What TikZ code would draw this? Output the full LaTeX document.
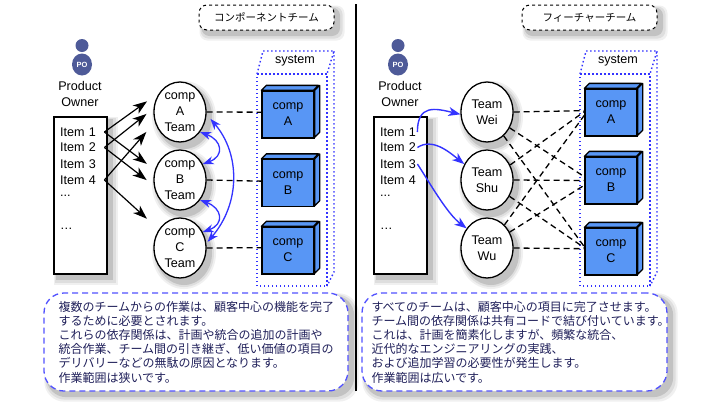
\documentclass[tikz,border=0pt]{standalone}
\usepackage{fontspec}
\setmainfont{Liberation Sans}
\newfontfamily\cjk{Noto Sans CJK JP}
\usetikzlibrary{arrows.meta,shapes.geometric,backgrounds,calc}
\definecolor{poBlue}{RGB}{78,90,152}
\definecolor{cubeBlue}{RGB}{88,150,245}
\definecolor{linkBlue}{RGB}{51,51,255}
\definecolor{noteInk}{RGB}{32,32,90}
\newcommand{\notefont}{\cjk\fontsize{12}{14.2}\selectfont\lineskiplimit=-10pt\relax}
\tikzstyle{caption}=[font=\fontsize{12.6}{16}\selectfont,align=center,inner sep=0pt]
\tikzstyle{team}=[caption,ellipse,draw=black,line width=1.3pt,fill=white,minimum width=52pt,minimum height=60pt]
\tikzstyle{cube}=[caption,rectangle,draw=black,line width=1.3pt,fill=cubeBlue,minimum width=52pt,minimum height=47pt]
\tikzstyle{item box}=[rectangle,draw=black,line width=1.3pt,fill=white,minimum width=53pt,minimum height=157pt]
\tikzstyle{item}=[caption,anchor=west,align=left]
\tikzstyle{title pill}=[rectangle,rounded corners=8pt,draw=black,dashed,line width=1pt,fill=white,minimum width=135pt,minimum height=25pt]
\tikzstyle{note}=[rectangle,rounded corners=20pt,draw=linkBlue!85,dash pattern=on 6pt off 4pt,line width=1.3pt,fill=white,minimum height=98pt]
\tikzstyle{note text}=[anchor=west,align=left,inner sep=0pt,text=noteInk,font=\notefont]
\tikzstyle{system}=[draw=linkBlue,line width=1.4pt,dash pattern=on 1.5pt off 2.5pt]
\tikzstyle{wire}=[draw=black,line width=1.3pt,dash pattern=on 6pt off 4pt]
\tikzstyle{flow}=[draw=black,line width=1.2pt,-{Stealth[length=14pt,width=10pt,inset=4pt]}]
\tikzstyle{link}=[draw=linkBlue,line width=1.4pt,-{Stealth[length=12pt,width=9pt,inset=3.5pt]}]
\tikzstyle{dep}=[draw=linkBlue,line width=1.3pt,{Stealth[length=11pt,width=8pt,inset=3.5pt]}-{Stealth[length=11pt,width=8pt,inset=3.5pt]}]
\newcommand{\cubefaces}[1]{
  \draw[fill=cubeBlue,line width=1.3pt,line join=round] (#1.north west) -- ++(5,-5) -- ++(52,0) -- ++(-5,5) -- cycle;
  \draw[fill=cubeBlue,line width=1.3pt,line join=round] (#1.north east) -- ++(5,-5) -- ++(0,47) -- ++(-5,5) -- cycle;
}
\newcommand{\person}[2]{
  \node[circle,fill=poBlue,minimum size=13pt,inner sep=0pt] (poHead#1) at (#2,45.5) {};
  \node[ellipse,fill=poBlue,minimum width=20pt,minimum height=22pt,inner sep=0pt,text=white,font=\bfseries\fontsize{7.5}{8}\selectfont] (poBody#1) at (#2,64.5) {PO};
}
\newcommand{\systemframe}[1]{
  \draw[system] (#1+257,74) -- (#1+327,74) -- (#1+327,286) -- (#1+257,286) -- cycle;
  \draw[system] (#1+257,74) -- (#1+263,51) -- (#1+334,51) -- (#1+327,74);
  \draw[system] (#1+334,51) -- (#1+334,272) -- (#1+327,286);
}
% soft shadows, on the background layer
\newcommand{\boxshadow}[2]{
  \begin{pgfonlayer}{background}
    \fill[black!6,rounded corners=#2] ($(#1.north west)+(1,1)$) rectangle ($(#1.south east)+(10,10)$);
    \fill[black!13,rounded corners=#2] ($(#1.north west)+(2,2)$) rectangle ($(#1.south east)+(8,8)$);
    \fill[black!24,rounded corners=#2] ($(#1.north west)+(3,3)$) rectangle ($(#1.south east)+(5.5,5.5)$);
  \end{pgfonlayer}
}
\newcommand{\ballshadow}[1]{
  \begin{pgfonlayer}{background}
    \fill[black!6] ($(#1.center)+(4,5)$) ellipse [x radius=32pt,y radius=36pt];
    \fill[black!13] ($(#1.center)+(4,5)$) ellipse [x radius=30pt,y radius=34pt];
    \fill[black!24] ($(#1.center)+(4,5)$) ellipse [x radius=28pt,y radius=32pt];
  \end{pgfonlayer}
}

\begin{document}
\begin{tikzpicture}[x=1pt,y=-1pt]
  \begin{pgfonlayer}{background}
    \fill[white] (0,0) rectangle (720,405);
  \end{pgfonlayer}
  \useasboundingbox (0,0) rectangle (720,405);

  \draw[line width=1.5pt] (356,4) -- (356,391);

  % component teams
  \node[title pill] (titleComp) at (266.5,17.5) {\cjk\fontsize{10.5}{12}\selectfont コンポーネントチーム\hspace{4pt}};
  \boxshadow{titleComp}{8pt}
  \person{L}{82}
  \node[caption] (ownerL) at (80,94) {Product\\Owner};
  \node[item box] (backlogL) at (80.5,195.5) {};
  \boxshadow{backlogL}{0pt}
  \node[item,text width=44pt] (itemLa) at (60,132) {Item 1};
  \node[item,text width=44pt] (itemLb) at (60,147.5) {Item 2};
  \node[item,text width=44pt] (itemLc) at (60,164) {Item 3};
  \node[item,text width=44pt] (itemLd) at (60,180) {Item 4};
  \node[item,text width=44pt] (itemLe) at (60,196) {...};
  \node[item,text width=44pt] (itemLf) at (60,229) {…};

  \node[team] (compTeamA) at (180,112) {comp\\A\\Team};
  \node[team] (compTeamB) at (180,180) {comp\\B\\Team};
  \node[team] (compTeamC) at (180,248) {comp\\C\\Team};
  \ballshadow{compTeamA}
  \ballshadow{compTeamB}
  \ballshadow{compTeamC}

  \node[cube] (cubeLA) at (288,114.5) {comp\\A};
  \node[cube] (cubeLB) at (288,183) {comp\\B};
  \node[cube] (cubeLC) at (288,250.5) {comp\\C};
  \cubefaces{cubeLA}
  \cubefaces{cubeLB}
  \cubefaces{cubeLC}
  \systemframe{0}
  \node[caption] (systemL) at (295,61) {system};

  \path (compTeamA.east) edge[wire] (cubeLA.175);
  \path (compTeamB.east) edge[wire] (cubeLB.176);
  \path (compTeamC.east) edge[wire] (cubeLC.174);

  \path (itemLa.east) edge[flow,shorten >=15.5pt] (compTeamA.136);
  \path (itemLa.east) edge[flow,shorten >=10pt] (compTeamB.158);
  \path (itemLb.east) edge[flow,shorten >=9pt] (compTeamA.172);
  \path (itemLb.east) edge[flow,shorten >=9pt] (compTeamB.192);
  \path (itemLd.east) edge[flow,shorten >=13pt] (compTeamA.202);
  \path (itemLd.east) edge[flow,shorten >=16pt] (compTeamC.139);

  \draw[dep] (compTeamA.-45) .. controls +(22,8) and +(22,-8) .. (compTeamB.35);
  \draw[dep] (compTeamB.-45) .. controls +(22,8) and +(22,-8) .. (compTeamC.35);
  \draw[dep,shorten <=6pt,shorten >=2pt] (compTeamA.-5) .. controls +(34,40) and +(34,-40) .. (compTeamC.10);

  \node[note,minimum width=304pt] (noteL) at (196,342) {};
  \boxshadow{noteL}{20pt}
  \node[note text] (noteLtext) at ([xshift=15pt]noteL.west) {複数のチームからの作業は、顧客中心の機能を完了\\するために必要とされます。\\これらの依存関係は、計画や統合の追加の計画や\\統合作業、チーム間の引き継ぎ、低い価値の項目の\\デリバリーなどの無駄の原因となります。\\作業範囲は狭いです。};

  % feature teams
  \node[title pill] (titleFeat) at (589.5,17.5) {\cjk\fontsize{10.5}{12}\selectfont フィーチャーチーム};
  \boxshadow{titleFeat}{8pt}
  \person{R}{398}
  \node[caption] (ownerR) at (400,94) {Product\\Owner};
  \node[item box] (backlogR) at (400.5,195.5) {};
  \boxshadow{backlogR}{0pt}
  \node[item,text width=37pt] (itemRa) at (380,132) {Item 1};
  \node[item,text width=37pt] (itemRb) at (380,147.5) {Item 2};
  \node[item,text width=37pt] (itemRc) at (380,164) {Item 3};
  \node[item,text width=37pt] (itemRd) at (380,180) {Item 4};
  \node[item,text width=37pt] (itemRe) at (380,196) {...};
  \node[item,text width=37pt] (itemRf) at (380,229) {…};

  \node[team] (teamWei) at (487,112) {Team\\Wei};
  \node[team] (teamShu) at (487,180) {Team\\Shu};
  \node[team] (teamWu) at (487,248) {Team\\Wu};
  \ballshadow{teamWei}
  \ballshadow{teamShu}
  \ballshadow{teamWu}

  \node[cube] (cubeRA) at (611,112.5) {comp\\A};
  \node[cube] (cubeRB) at (611,180.5) {comp\\B};
  \node[cube] (cubeRC) at (611,251.5) {comp\\C};
  \cubefaces{cubeRA}
  \cubefaces{cubeRB}
  \cubefaces{cubeRC}
  \systemframe{323}
  \node[caption] (systemR) at (618,61) {system};

  \path (teamWei.east) edge[wire] (cubeRA.176);
  \path (teamWei.-35) edge[wire] (cubeRB.172);
  \path (teamWei.-55) edge[wire] (cubeRC.170);
  \path (teamShu.33) edge[wire] (cubeRA.178);
  \path (teamShu.east) edge[wire] (cubeRB.west);
  \path (teamShu.-36) edge[wire] (cubeRC.172);
  \path (teamWu.53) edge[wire] (cubeRA.186);
  \path (teamWu.35) edge[wire] (cubeRB.190);
  \path (teamWu.east) edge[wire] (cubeRC.174);

  \draw[link] (itemRa.east) .. controls +(0,-28) and +(-25,-6) .. (teamWei.185);
  \draw[link] (itemRb.east) .. controls +(15,-10) and +(-15,-12) .. (teamShu.145);
  \draw[link] (itemRc.east) .. controls +(10,15) and +(-20,-15) .. (teamWu.136);

  \node[note,minimum width=305pt] (noteR) at (514.5,342) {};
  \boxshadow{noteR}{20pt}
  \node[note text] (noteRtext) at ([xshift=10pt]noteR.west) {すべてのチームは、顧客中心の項目に完了させます。\\チーム間の依存関係は共有コードで結び付いています。\\これは、計画を簡素化しますが、頻繁な統合、\\近代的なエンジニアリングの実践、\\および追加学習の必要性が発生します。\\作業範囲は広いです。};
\end{tikzpicture}
\end{document}
